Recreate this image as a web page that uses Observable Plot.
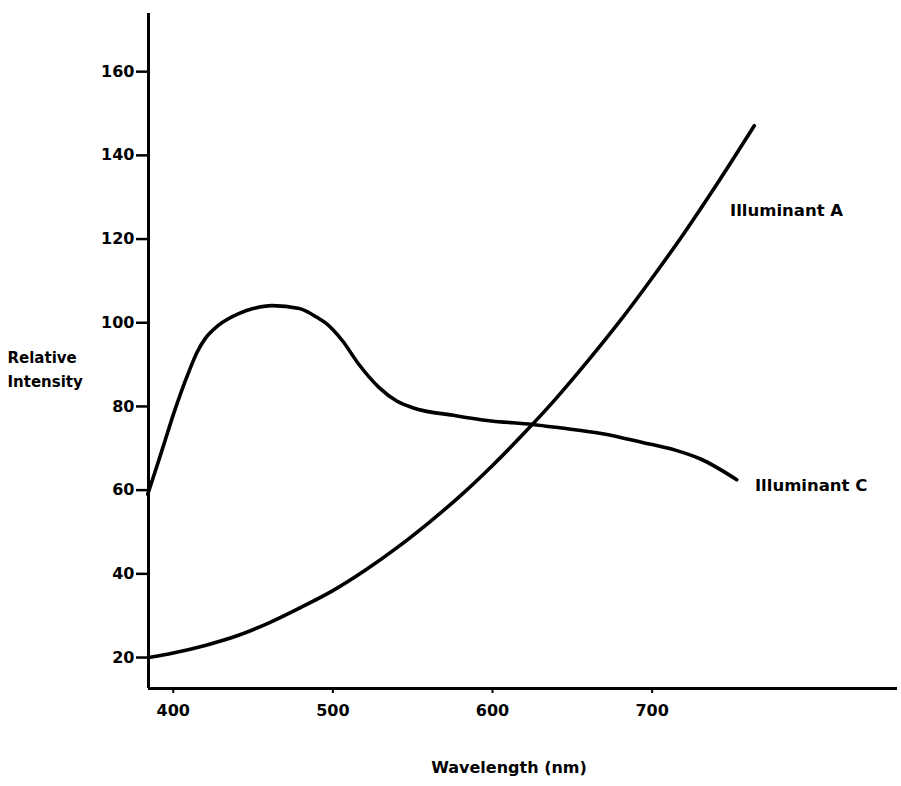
<!DOCTYPE html>
<html><head><meta charset="utf-8">
<script src="https://cdn.jsdelivr.net/npm/d3@7"></script>
<script src="https://cdn.jsdelivr.net/npm/@observablehq/plot@0.6"></script>
<style>
body{margin:0;background:#fff}
#chart svg{font-family:"DejaVu Sans",sans-serif;font-weight:bold;background:#fff}
</style>
</head><body><div id="chart"></div>
<script>
// Axis extents and ticks
const xDomain = [384.5, 853.7];
const yDomain = [12.6, 173.9];
const xTicks = [400, 500, 600, 700];
const yTicks = [20, 40, 60, 80, 100, 120, 140, 160];

// Illuminant A
const aWavelength = [384.5, 400, 420, 440, 460, 480, 500, 520, 540, 560, 580, 600, 620, 640, 660, 680, 700, 720, 740, 764];
const aIntensity  = [20, 21.1, 22.9, 25.2, 28.3, 32, 36, 40.8, 46.2, 52.2, 58.7, 65.9, 73.7, 82, 91, 100.5, 110.7, 121.4, 132.8, 147.1];

// Illuminant C
const cWavelength = [384, 390, 395, 400, 405, 410, 415, 420, 428, 441, 450, 462, 479, 490, 496, 506, 516, 529, 540, 550, 577, 598, 625, 642, 669, 694, 715, 730, 753];
const cIntensity  = [59, 66, 72, 78, 83.5, 88.5, 93, 96.2, 99.3, 102.2, 103.4, 104.1, 103.4, 101.3, 99.8, 95.7, 90.2, 84.5, 81.3, 79.7, 77.8, 76.6, 75.7, 74.9, 73.5, 71.4, 69.5, 67.5, 62.5];

// Series labels
const seriesNames = ["Illuminant A", "Illuminant C"];
const seriesLabelX = [748.8, 764.4];
const seriesLabelY = [126.8, 61.1];

const xTitle = "Wavelength (nm)";
const yTitle = "Relative\nIntensity";

const toRows = (xs, ys) => xs.map((x, i) => ({x, y: ys[i]}));
const aRows = toRows(aWavelength, aIntensity);
const cRows = toRows(cWavelength, cIntensity);
const labelRows = seriesNames.map((name, i) => ({name, x: seriesLabelX[i], y: seriesLabelY[i]}));

const chart = Plot.plot({
  width: 901,
  height: 786,
  marginLeft: 148,
  marginRight: 4,
  marginTop: 13,
  marginBottom: 98,
  x: {domain: xDomain},
  y: {domain: yDomain},
  style: {fontSize: "16px", fontWeight: "bold", color: "#000", background: "#fff"},
  marks: [
    Plot.axisY({ticks: yTicks, tickSize: 12, tickPadding: 2, label: null, strokeWidth: 2.5, fontSize: 16}),
    Plot.axisX({ticks: xTicks, tickSize: 5, tickPadding: 11, label: null, strokeWidth: 2, fontSize: 16}),
    Plot.ruleX([xDomain[0]], {stroke: "#000", strokeWidth: 3}),
    Plot.ruleY([yDomain[0]], {stroke: "#000", strokeWidth: 3}),
    Plot.line(aRows, {x: "x", y: "y", stroke: "#000", strokeWidth: 3.6, curve: "monotone-x"}),
    Plot.line(cRows, {x: "x", y: "y", stroke: "#000", strokeWidth: 3.6, curve: "monotone-x"}),
    Plot.text(labelRows, {x: "x", y: "y", text: "name", textAnchor: "start", lineAnchor: "middle", fontSize: 16.5, fontWeight: "bold", fill: "#000"}),
    Plot.text([xTitle], {frameAnchor: "bottom", dx: -14, dy: 79, lineAnchor: "middle", fontSize: 16, fontWeight: "bold", fill: "#000"}),
    Plot.text([yTitle], {frameAnchor: "left", dx: -141, dy: 16, textAnchor: "start", lineAnchor: "middle", lineHeight: 1.65, fontSize: 15, fontWeight: "bold", fill: "#000"})
  ]
});
document.getElementById("chart").append(chart);
</script>
</body></html>
